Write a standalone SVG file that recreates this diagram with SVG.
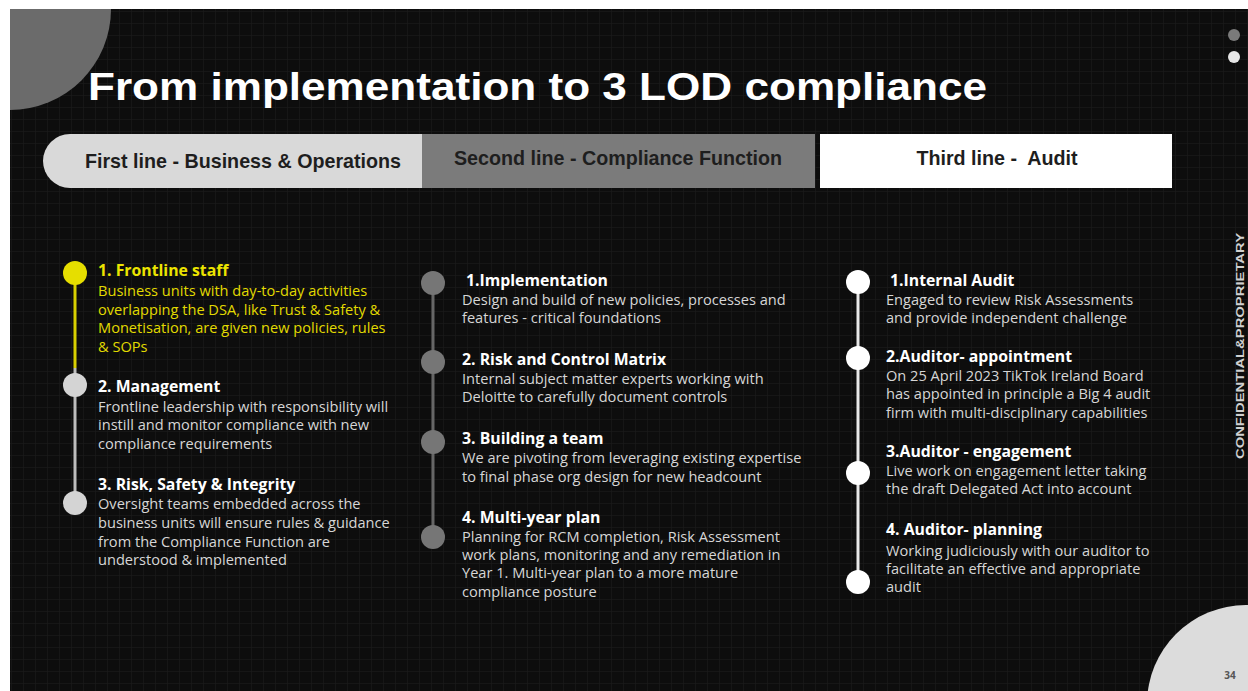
<svg xmlns="http://www.w3.org/2000/svg" width="1248" height="691" viewBox="0 0 1248 691">
<defs>
<pattern id="grid" width="12" height="12" patternUnits="userSpaceOnUse">
<path d="M12 0 V12 M0 12 H12" fill="none" stroke="#1d1d1d" stroke-width="1"/>
</pattern>
<clipPath id="page"><rect x="10" y="9" width="1238" height="682"/></clipPath>
</defs>
<style>
text{font-family:"Open Sans","Liberation Sans",Arial,sans-serif}
.title{font-weight:700;font-size:15.8px;fill:#ffffff}
.body{font-size:14.6px;fill:#d6d6d6}
.ytitle{font-weight:700;font-size:15.8px;fill:#ece400}
.ybody{font-size:14.6px;fill:#e2da00}
.hdr{font-family:"Liberation Sans",Arial,sans-serif;font-weight:700;font-size:19.7px;fill:#1e1e1e;text-anchor:middle}
</style>
<rect x="0" y="0" width="1248" height="691" fill="#ffffff"/>
<rect x="10" y="9" width="1238" height="682" fill="#0d0d0d"/>
<rect x="10" y="9" width="1238" height="682" fill="url(#grid)"/>
<g clip-path="url(#page)">
<circle cx="10" cy="9" r="101" fill="#6b6b6b"/>
<circle cx="1246" cy="704" r="99" fill="#dcdcdc"/>
</g>
<text x="1230" y="679" font-size="10" fill="#555" font-weight="700" text-anchor="middle">34</text>
<circle cx="1234" cy="35" r="6" fill="#7a7a7a"/>
<circle cx="1234" cy="57" r="6" fill="#e6e6e6"/>
<text transform="translate(1244,346) rotate(-90)" text-anchor="middle" font-size="10" font-weight="700" fill="#d0d0d0" style="font-family:'Liberation Sans',Arial,sans-serif" textLength="226" lengthAdjust="spacingAndGlyphs">CONFIDENTIAL&amp;PROPRIETARY</text>

<text x="88" y="100" font-size="38" font-weight="700" fill="#ffffff" style="font-family:'Liberation Sans',Arial,sans-serif" textLength="899" lengthAdjust="spacingAndGlyphs">From implementation to 3 LOD compliance</text>

<g id="header">
<g id="hdr-first">
<path d="M70 134 H422 V188 H70 A27 27 0 0 1 70 134 Z" fill="#d9d9d9"/>
<text class="hdr" x="243" y="168">First line - Business &amp; Operations</text>
</g>
<g id="hdr-second">
<rect x="422" y="134" width="393" height="54" fill="#7b7b7b"/>
<text class="hdr" x="618" y="165">Second line - Compliance Function</text>
</g>
<g id="hdr-third">
<rect x="820" y="134" width="352" height="54" fill="#ffffff"/>
<text class="hdr" x="997" y="165">Third line -&#160; Audit</text>
</g>
</g>

<g id="connectors">
<line x1="75" y1="273" x2="75" y2="368" stroke="#d8d000" stroke-width="3"/>
<line x1="75" y1="368" x2="75" y2="503" stroke="#bdbdbd" stroke-width="3"/>
<line x1="433" y1="283" x2="433" y2="537" stroke="#666666" stroke-width="3"/>
<line x1="858" y1="282" x2="858" y2="582" stroke="#e8e8e8" stroke-width="3"/>
</g>

<g id="col1">
<g id="c1-n1">
<circle cx="75" cy="273" r="12" fill="#e6de00"/>
<text class="ytitle" x="98" y="276">1. Frontline staff</text>
<text class="ybody" x="98" y="296">Business units with day-to-day activities</text>
<text class="ybody" x="98" y="315">overlapping the DSA, like Trust &amp; Safety &amp;</text>
<text class="ybody" x="98" y="333">Monetisation, are given new policies, rules</text>
<text class="ybody" x="98" y="352">&amp; SOPs</text>
</g>
<g id="c1-n2">
<circle cx="75" cy="385" r="12" fill="#d4d4d4"/>
<text class="title" x="98" y="392">2. Management</text>
<text class="body" x="98" y="412">Frontline leadership with responsibility will</text>
<text class="body" x="98" y="430">instill and monitor compliance with new</text>
<text class="body" x="98" y="449">compliance requirements</text>
</g>
<g id="c1-n3">
<circle cx="75" cy="503" r="12" fill="#d4d4d4"/>
<text class="title" x="98" y="490">3. Risk, Safety &amp; Integrity</text>
<text class="body" x="98" y="509">Oversight teams embedded across the</text>
<text class="body" x="98" y="528">business units will ensure rules &amp; guidance</text>
<text class="body" x="98" y="547">from the Compliance Function are</text>
<text class="body" x="98" y="565">understood &amp; implemented</text>
</g>
</g>

<g id="col2">
<g id="c2-n1">
<circle cx="433" cy="283" r="12" fill="#767676"/>
<text class="title" x="466" y="286">1.Implementation</text>
<text class="body" x="462" y="305">Design and build of new policies, processes and</text>
<text class="body" x="462" y="323">features - critical foundations</text>
</g>
<g id="c2-n2">
<circle cx="433" cy="362" r="12" fill="#767676"/>
<text class="title" x="462" y="365">2. Risk and Control Matrix</text>
<text class="body" x="462" y="384">Internal subject matter experts working with</text>
<text class="body" x="462" y="402">Deloitte to carefully document controls</text>
</g>
<g id="c2-n3">
<circle cx="433" cy="442" r="12" fill="#767676"/>
<text class="title" x="462" y="444">3. Building a team</text>
<text class="body" x="462" y="463">We are pivoting from leveraging existing expertise</text>
<text class="body" x="462" y="482">to final phase org design for new headcount</text>
</g>
<g id="c2-n4">
<circle cx="433" cy="537" r="12" fill="#767676"/>
<text class="title" x="462" y="523">4. Multi-year plan</text>
<text class="body" x="462" y="542">Planning for RCM completion, Risk Assessment</text>
<text class="body" x="462" y="560">work plans, monitoring and any remediation in</text>
<text class="body" x="462" y="578">Year 1. Multi-year plan to a more mature</text>
<text class="body" x="462" y="597">compliance posture</text>
</g>
</g>

<g id="col3">
<g id="c3-n1">
<circle cx="858" cy="282" r="12" fill="#ffffff"/>
<text class="title" x="890" y="286">1.Internal Audit</text>
<text class="body" x="886" y="305">Engaged to review Risk Assessments</text>
<text class="body" x="886" y="323">and provide independent challenge</text>
</g>
<g id="c3-n2">
<circle cx="858" cy="358" r="12" fill="#ffffff"/>
<text class="title" x="886" y="362">2.Auditor- appointment</text>
<text class="body" x="886" y="381">On 25 April 2023 TikTok Ireland Board</text>
<text class="body" x="886" y="399">has appointed in principle a Big 4 audit</text>
<text class="body" x="886" y="418">firm with multi-disciplinary capabilities</text>
</g>
<g id="c3-n3">
<circle cx="858" cy="473" r="12" fill="#ffffff"/>
<text class="title" x="886" y="457">3.Auditor - engagement</text>
<text class="body" x="886" y="476">Live work on engagement letter taking</text>
<text class="body" x="886" y="494">the draft Delegated Act into account</text>
</g>
<g id="c3-n4">
<circle cx="858" cy="582" r="12" fill="#ffffff"/>
<text class="title" x="886" y="535">4. Auditor- planning</text>
<text class="body" x="886" y="556">Working judiciously with our auditor to</text>
<text class="body" x="886" y="574">facilitate an effective and appropriate</text>
<text class="body" x="886" y="592">audit</text>
</g>
</g>
</svg>
